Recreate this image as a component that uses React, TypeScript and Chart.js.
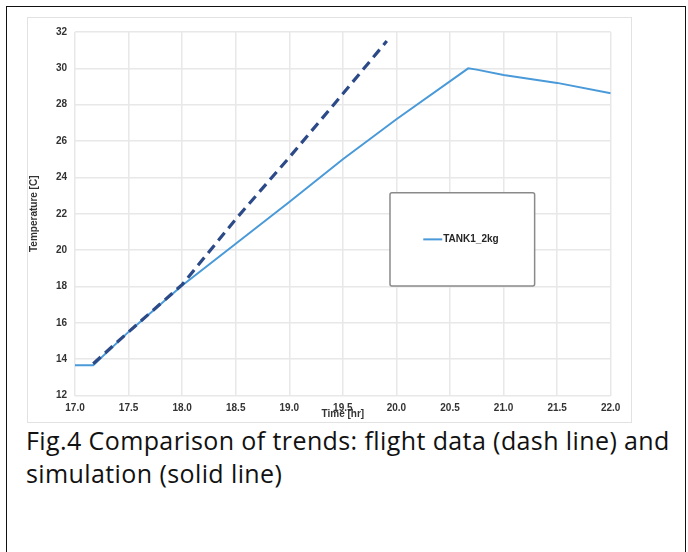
import React, { useEffect, useRef } from "react";
import { Chart, registerables } from "chart.js";

Chart.register(...registerables);

// Simulation (solid line)
const simTime = [17.0, 17.17, 17.5, 18.0, 18.5, 19.0, 19.5, 20.0, 20.67, 20.75, 21.0, 21.5, 22.0];
const simTemp = [13.67, 13.67, 15.5, 18.05, 20.35, 22.65, 25.0, 27.2, 30.0, 29.93, 29.64, 29.2, 28.63];

// Flight data (dashed line)
const flightTime = [17.17, 17.5, 18.0, 18.5, 19.0, 19.5, 19.91];
const flightTemp = [13.75, 15.5, 18.1, 21.7, 25.1, 28.6, 31.5];

const xMin = 17;
const xMax = 22;
const xStep = 0.5;
const yMin = 12;
const yMax = 32;
const yStep = 2;

const simLabel = "TANK1_2kg";
const flightLabel = "Flight data";
const xTitle = "Time [hr]";
const yTitle = "Temperature [C]";
const captionLine1 = "Fig.4 Comparison of trends: flight data (dash line) and";
const captionLine2 = "simulation (solid line)";

const SIM_COLOR = "#4a9ad9";
const FLIGHT_COLOR = "#2c4a87";
const TICK_COLOR = "#333333";
const FONT = "'Liberation Sans', Arial, sans-serif";

const legendBoxPlugin = {
  id: "legendBox",
  afterDatasetsDraw(chart: any) {
    const { ctx, chartArea } = chart;
    const w = chartArea.right - chartArea.left;
    const h = chartArea.bottom - chartArea.top;
    const bx = chartArea.left + w * 0.588;
    const by = chartArea.top + h * 0.442;
    const bw = w * 0.27;
    const bh = h * 0.257;
    ctx.save();
    ctx.fillStyle = "#ffffff";
    ctx.strokeStyle = "#8a8a8a";
    ctx.lineWidth = 1.5;
    ctx.beginPath();
    if (ctx.roundRect) ctx.roundRect(bx, by, bw, bh, 2);
    else ctx.rect(bx, by, bw, bh);
    ctx.fill();
    ctx.stroke();
    const ds = chart.data.datasets.find((d: any) => d.label === simLabel);
    const ly = by + bh * 0.5;
    const lx = bx + bw * 0.23;
    ctx.strokeStyle = ds.borderColor;
    ctx.lineWidth = 2;
    ctx.beginPath();
    ctx.moveTo(lx, ly);
    ctx.lineTo(lx + 19, ly);
    ctx.stroke();
    ctx.fillStyle = "#262626";
    ctx.font = "bold 10px " + FONT;
    ctx.textBaseline = "middle";
    ctx.textAlign = "left";
    ctx.fillText(ds.label, lx + 20, ly);
    ctx.restore();
  },
};

export default function App() {
  const canvasRef = useRef<HTMLCanvasElement | null>(null);

  useEffect(() => {
    const canvas = canvasRef.current;
    if (!canvas) return;
    const chart = new Chart(canvas, {
      type: "line",
      data: {
        datasets: [
          {
            label: flightLabel,
            data: flightTime.map((t, i) => ({ x: t, y: flightTemp[i] })),
            borderColor: FLIGHT_COLOR,
            borderWidth: 3.2,
            borderDash: [10, 6],
            pointRadius: 0,
            tension: 0,
            fill: false,
          },
          {
            label: simLabel,
            data: simTime.map((t, i) => ({ x: t, y: simTemp[i] })),
            borderColor: SIM_COLOR,
            borderWidth: 2,
            pointRadius: 0,
            tension: 0,
            fill: false,
          },
        ],
      },
      options: {
        animation: false,
        responsive: false,
        maintainAspectRatio: false,
        layout: { padding: { top: 11.5, right: 20.3, left: 0, bottom: 0 } },
        plugins: {
          legend: { display: false },
          tooltip: { enabled: false },
          title: { display: false },
        },
        scales: {
          x: {
            type: "linear",
            min: xMin,
            max: xMax,
            ticks: {
              stepSize: xStep,
              color: TICK_COLOR,
              font: { family: FONT, size: 10, weight: "bold" },
              padding: 7,
              maxRotation: 0,
              autoSkip: false,
              callback: (v: any) => Number(v).toFixed(1),
            },
            grid: { color: "#e8e8e8", lineWidth: 1.5, drawTicks: false },
            border: { display: false },
            title: {
              display: true,
              text: xTitle,
              color: TICK_COLOR,
              font: { family: FONT, size: 10, weight: "bold" },
              padding: { top: 0, bottom: 1.5 },
            },
            afterFit: (scale: any) => {
              scale.height = 26.5;
            },
          },
          y: {
            type: "linear",
            min: yMin,
            max: yMax,
            ticks: {
              stepSize: yStep,
              color: TICK_COLOR,
              font: { family: FONT, size: 10, weight: "bold" },
              padding: 8,
            },
            grid: { color: "#e8e8e8", lineWidth: 1.5, drawTicks: false },
            border: { display: false },
            title: {
              display: true,
              text: yTitle,
              color: TICK_COLOR,
              font: { family: FONT, size: 10, weight: "bold" },
              padding: { top: 0, bottom: 0 },
            },
            afterFit: (scale: any) => {
              scale.width = 47;
            },
          },
        },
      },
      plugins: [legendBoxPlugin],
    });
    return () => chart.destroy();
  }, []);

  return (
    <div
      style={{
        position: "fixed",
        left: 0,
        top: 0,
        width: 688,
        height: 552,
        overflow: "hidden",
        background: "#ffffff",
      }}
    >
      <div
        style={{
          position: "absolute",
          left: 6,
          top: 6,
          width: 680,
          height: 600,
          boxSizing: "border-box",
          borderLeft: "1.5px solid #111",
          borderTop: "1.5px solid #111",
          borderRight: "1.5px solid #111",
        }}
      />
      <div
        style={{
          position: "absolute",
          left: 27,
          top: 17,
          width: 605,
          height: 406,
          boxSizing: "border-box",
          border: "1px solid #e2e2e2",
        }}
      >
        <canvas ref={canvasRef} width={603} height={404} style={{ display: "block", width: 603, height: 404 }} />
      </div>
      <div
        style={{
          position: "absolute",
          left: 26,
          top: 424,
          fontFamily: "'Open Sans', 'Noto Sans', sans-serif",
          fontSize: 25,
          letterSpacing: "0.4px",
          lineHeight: "33px",
          color: "#111",
          whiteSpace: "nowrap",
        }}
      >
        <div>{captionLine1}</div>
        <div>{captionLine2}</div>
      </div>
    </div>
  );
}
